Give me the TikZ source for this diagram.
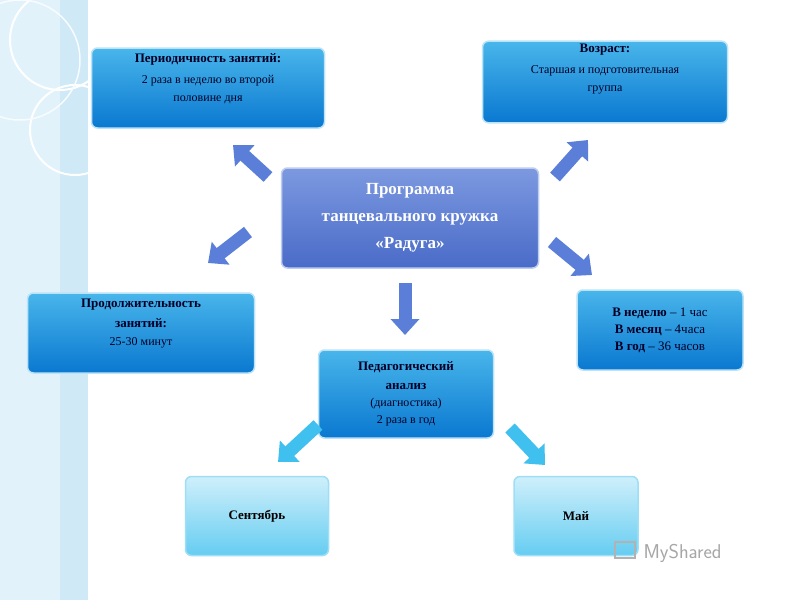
\documentclass[tikz,border=0pt]{standalone}
\usepackage{fontspec}
\setmainfont{Liberation Serif}
\usetikzlibrary{arrows.meta}
\definecolor{boxA}{HTML}{1BA3E6}
\definecolor{boxB}{HTML}{0A78D0}
\definecolor{cen}{HTML}{5B7FD8}
\definecolor{cenB}{HTML}{4A6BC8}
\definecolor{light}{HTML}{3FC0EE}
\definecolor{strip}{HTML}{CFE9F6}
\tikzset{
 box/.style={draw=white!70!boxA, line width=1.5pt, rounded corners=6pt, top color=boxA!80!white, bottom color=boxB, inner sep=3pt, align=center, text=black!85!blue, font=\fontsize{12}{18}\selectfont},
 cbox/.style={draw=white!60!cen, line width=1.5pt, rounded corners=6pt, top color=cen!80!white, bottom color=cenB, align=center, text=white, font=\bfseries\fontsize{17}{27}\selectfont},
 lbox/.style={draw=white!50!light, line width=1.5pt, rounded corners=6pt, top color=light!25!white, bottom color=light!80!white, align=center, text=black, font=\bfseries\fontsize{13}{15}\selectfont},
 barrow/.style={draw=cen, line width=13pt, -{Triangle[width=28pt,length=16pt]}},
 carrow/.style={draw=light, line width=13pt, -{Triangle[width=28pt,length=16pt]}}
}
\newcommand{\tb}[1]{\textbf{\fontsize{13}{18}\selectfont #1}}
\begin{document}
\begin{tikzpicture}[x=1pt,y=-1pt]
\useasboundingbox (0,0) rectangle (800,600);
\fill[white] (0,0) rectangle (800,600);
\fill[strip] (0,0) rectangle (88,600);
\fill[strip!60!white] (0,0) rectangle (60,600);
\draw[white, line width=2pt] (60,40) circle (50);
\draw[white, line width=2pt] (75,130) circle (45);
\draw[white!85!strip, line width=1.5pt] (20,60) circle (60);

\node[box, minimum width=233pt, minimum height=80pt] (per) at (208,88)
 {\tb{Периодичность занятий:}\\[3pt]2 раза в неделю во второй\\половине дня\\[2pt]};
\node[box, minimum width=245pt, minimum height=80pt] (age) at (605,82)
 {\tb{Возраст:}\\[3pt]Старшая и подготовительная\\группа\\[10pt]};
\node[cbox, minimum width=257pt, minimum height=100pt] (c) at (410,218)
 {Программа\\танцевального кружка\\«Радуга»};
\node[box, minimum width=227pt, minimum height=80pt] (dur) at (141,333)
 {\tb{Продолжительность}\\[2pt]\tb{занятий:}\\25-30 минут\\[4pt]};
\node[box, minimum width=166pt, minimum height=80pt, font=\fontsize{13}{17}\selectfont] (wk) at (660,330)
 {\textbf{В неделю} – 1 час\\\textbf{В месяц} – 4часа\\\textbf{В год} – 36 часов};
\node[box, minimum width=175pt, minimum height=88pt, font=\fontsize{12}{17}\selectfont] (ped) at (406,394)
 {\tb{Педагогический}\\[2pt]\tb{анализ}\\(диагностика)\\2 раза в год};
\node[lbox, minimum width=143pt, minimum height=79pt] (sep) at (257,516) {Сентябрь};
\node[lbox, minimum width=124pt, minimum height=79pt] (may) at (576,516) {Май};

\coordinate (s1) at (268,177); \coordinate (e1) at (233,145);
\coordinate (s2) at (555,177); \coordinate (e2) at (588,140);
\coordinate (s3) at (248,232); \coordinate (e3) at (208,263);
\coordinate (s4) at (552,242); \coordinate (e4) at (592,275);
\coordinate (s5) at (405,283); \coordinate (e5) at (405,335);
\coordinate (s6) at (318,425); \coordinate (e6) at (278,462);
\coordinate (s7) at (510,428); \coordinate (e7) at (545,465);
\draw[barrow] (s1) -- (e1);
\draw[barrow] (s2) -- (e2);
\draw[barrow] (s3) -- (e3);
\draw[barrow] (s4) -- (e4);
\draw[barrow] (s5) -- (e5);
\draw[carrow] (s6) -- (e6);
\draw[carrow] (s7) -- (e7);

\node[text=gray!70, font=\fontsize{20}{22}\selectfont\sffamily, anchor=west] (ms) at (640,553) {MyShared};
\node[draw=gray!60, line width=1.5pt, minimum width=20pt, minimum height=16pt] (lg) at (625,550) {};
\end{tikzpicture}
\end{document}
